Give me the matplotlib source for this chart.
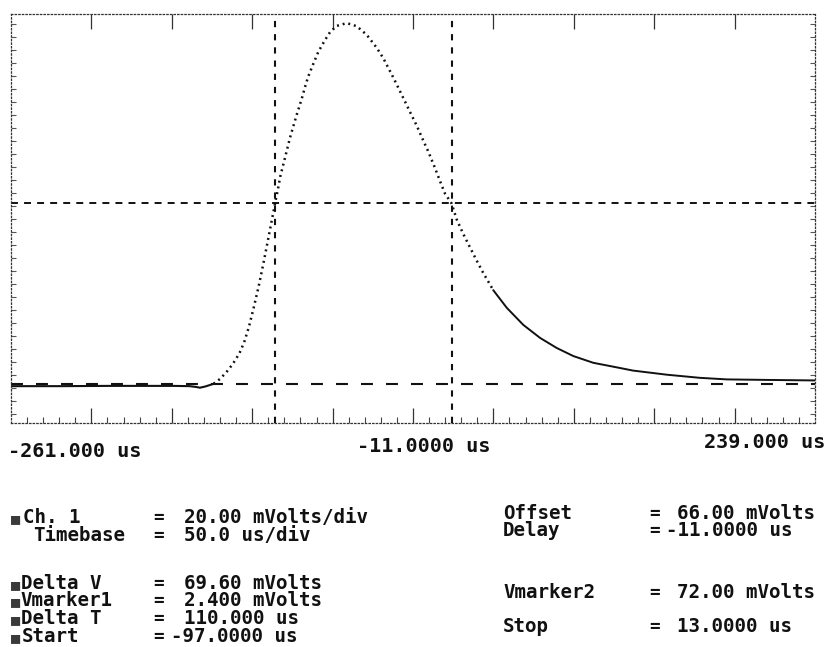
import numpy as np
import matplotlib
matplotlib.use("Agg")
import matplotlib.pyplot as plt
from matplotlib.ticker import FixedLocator

plt.rcParams["lines.scale_dashes"] = False

# ---- scope settings -------------------------------------------------
t_start_screen, t_end_screen = -261.0, 239.0      # us
v_bottom, v_top = -12.6, 145.0                    # mV
start_cursor, stop_cursor = -97.0, 13.0           # us
vmarker1, vmarker2 = 2.4, 72.0                    # mV

# ---- captured trace (time in us, voltage in mV) ---------------------
trace_t = [-261, -230, -200, -180, -160, -150, -146, -143.5, -140, -135,
           -131, -127, -123, -119, -116, -113, -110, -107, -104, -101,
           -98.5, -96.8, -95, -93.5, -90.6, -87.5, -85.4, -83.3, -80.2, -78.2,
           -76.1, -73, -69.9, -65.7, -62.6, -58.5, -52.2, -46, -39.8, -33.6,
           -29.5, -24.3, -21.1, -16, -12.9, -8.7, -4.6, -1.5, 2.6, 5.8,
           8.9, 13.0, 16.2, 20.3, 24.5, 28.6, 32.7, 38.9, 47.3, 57.6,
           68, 78.4, 88.7, 101.1, 117.7, 125.8, 147, 167.5, 184.3, 209.2,
           239]
trace_v = [1.6, 1.6, 1.7, 1.7, 1.7, 1.6, 1.3, 1.0, 1.5, 2.5,
           4.4, 7.0, 10.2, 14.2, 18.5, 24.5, 32.0, 40.0, 49.0, 58.5,
           66.5, 72.0, 77.5, 82.5, 89.6, 97.3, 101.8, 106.2, 112.3, 116.8,
           121.0, 125.8, 130.4, 135.0, 138.0, 140.4, 141.5, 140.3, 137.0, 132.0,
           128.0, 121.8, 117.8, 111.3, 107.3, 102.0, 96.2, 92.0, 85.8, 80.6,
           75.8, 72.0, 65.8, 60.2, 55.0, 50.0, 45.2, 38.6, 31.8, 25.2,
           20.2, 16.3, 13.2, 10.6, 8.6, 7.6, 6.0, 4.8, 4.2, 4.0,
           3.8]

# ---- readout panel --------------------------------------------------
left_labels = ["Ch. 1", "Timebase", "Delta V", "Vmarker1", "Delta T", "Start"]
left_values = ["20.00 mVolts/div", "50.0 us/div", "69.60 mVolts",
               "2.400 mVolts", "110.000 us", "-97.0000 us"]
left_marked = [True, False, True, True, True, True]
right_labels = ["Offset", "Delay", "Vmarker2", "Stop"]
right_values = ["66.00 mVolts", "-11.0000 us", "72.00 mVolts", "13.0000 us"]
time_labels = ["-261.000 us", "-11.0000 us", "239.000 us"]

W, H = 829, 647
fig = plt.figure(figsize=(W / 100, H / 100), dpi=100)
fig.patch.set_facecolor("white")


def fx(x):
    return x / W


def fy(y):
    return 1 - y / H


L, R, T, B = 11, 815, 14, 423
ax = fig.add_axes([fx(L), fy(B), (R - L) / W, (B - T) / H])
ax.set_xlim(t_start_screen, t_end_screen)
ax.set_ylim(v_bottom, v_top)
ax.set_facecolor("white")

ink = "#111111"

# dotted graticule border
for side in ["left", "right", "top", "bottom"]:
    ax.spines[side].set_linestyle((0, (1.0, 1.6)))
    ax.spines[side].set_linewidth(0.9)
    ax.spines[side].set_color("#333333")

# graticule marks: 50 us per major division, 10 us minor; 5 mV marks on sides
div_t = t_start_screen + 50 * np.arange(1, 10)
ax.xaxis.set_major_locator(FixedLocator(div_t))
ax.xaxis.set_minor_locator(FixedLocator(t_start_screen + 10 * np.arange(1, 50)))
ax.yaxis.set_major_locator(FixedLocator([]))
ax.yaxis.set_minor_locator(FixedLocator(-14 + 5 * np.arange(1, 32)))
ax.tick_params(axis="x", which="major", direction="in", length=11, width=0.9,
               color="#333333", top=True, bottom=True, labelbottom=False)
ax.tick_params(axis="x", which="minor", direction="in", length=4, width=0.8,
               color="#444444", top=False, bottom=True)
ax.tick_params(axis="y", which="minor", direction="in", length=3.5, width=0.8,
               color="#555555", left=True, right=True)
ax.tick_params(axis="y", labelleft=False)

# cursors
ax.axvline(start_cursor, color=ink, lw=1.5, linestyle=(0, (4.5, 5.0)))
ax.axvline(stop_cursor, color=ink, lw=1.5, linestyle=(0, (4.5, 5.0)))
ax.axhline(vmarker2, color=ink, lw=1.4, linestyle=(0, (5.0, 4.4)))
ax.axhline(vmarker1, color=ink, lw=1.5, linestyle=(0, (8.6, 9.4)))

# trace: continuous where slow, sampled dots where the edge is steep
t = np.array(trace_t)
v = np.array(trace_v)
slow_left = t <= -135
steep = (t >= -135) & (t <= 42)
slow_right = t >= 38.9
ax.plot(t[slow_left], v[slow_left], color=ink, lw=1.5, solid_capstyle="round",
        solid_joinstyle="round")
ax.plot(t[slow_right], v[slow_right], color=ink, lw=1.4,
        solid_capstyle="round", solid_joinstyle="round")
ax.plot(t[steep], v[steep], color=ink, lw=1.8, linestyle=(0, (1.4, 2.8)),
        dash_capstyle="butt")

mono = "DejaVu Sans Mono"
txt = dict(family=mono, va="baseline", color=ink, fontweight="bold")

# time labels under the screen
fig.text(fx(8), fy(457), time_labels[0], fontsize=14.5, ha="left", **txt)
fig.text(fx(357), fy(452), time_labels[1], fontsize=14.5, ha="left", **txt)
fig.text(fx(825), fy(448), time_labels[2], fontsize=14.5, ha="right", **txt)

# readout, left column
fs = 13.8
left_base = [523, 541, 589, 606, 624, 642]
left_x = [23, 33, 21, 20, 21, 22]
for lab, val, mark, yb, xl in zip(left_labels, left_values, left_marked,
                                   left_base, left_x):
    if mark:
        fig.text(fx(11), fy(yb), "\u25A0", family=mono, fontsize=11,
                 ha="left", va="baseline", color="#3a3a3a")
    fig.text(fx(xl), fy(yb), lab, fontsize=fs, ha="left", **txt)
    fig.text(fx(159), fy(yb), "=", fontsize=fs - 1, ha="center", **txt)
    vx = 171 if val.startswith("-") else 184
    fig.text(fx(vx), fy(yb), val, fontsize=fs, ha="left", **txt)

# readout, right column
right_base = [519, 536, 598, 632]
for lab, val, yb in zip(right_labels, right_values, right_base):
    fig.text(fx(503), fy(yb), lab, fontsize=fs, ha="left", **txt)
    fig.text(fx(655), fy(yb), "=", fontsize=fs - 1, ha="center", **txt)
    vx = 666 if val.startswith("-") else 677
    fig.text(fx(vx), fy(yb), val, fontsize=fs, ha="left", **txt)

fig.savefig("out.png", dpi=100, facecolor="white")
